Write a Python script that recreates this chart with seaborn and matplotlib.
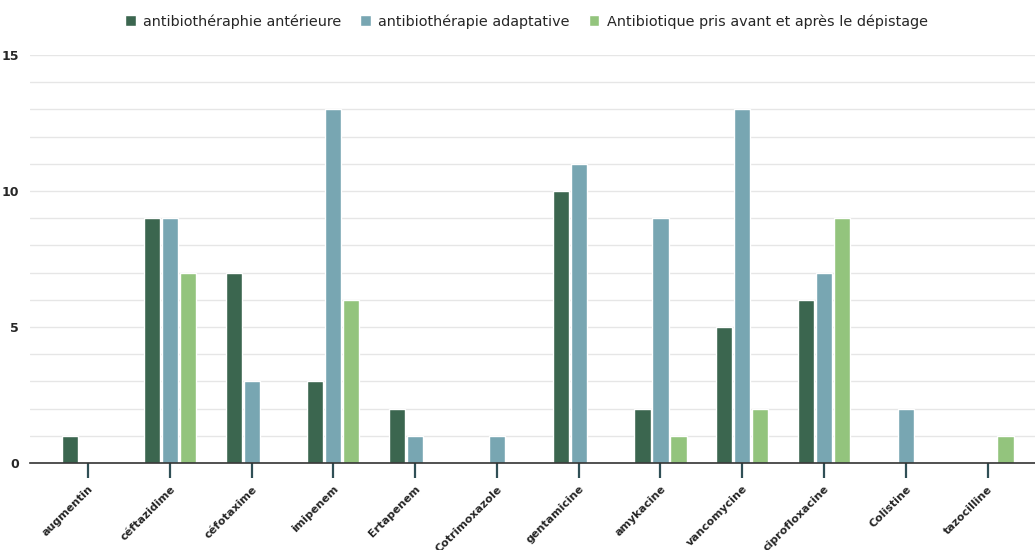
import matplotlib
matplotlib.use("Agg")
import matplotlib.pyplot as plt
import seaborn as sns
import pandas as pd

categories = ["augmentin", "céftazidime", "céfotaxime", "imipenem", "Ertapenem",
              "Cotrimoxazole", "gentamicine", "amykacine", "vancomycine",
              "ciprofloxacine", "Colistine", "tazocilline"]
series_names = ["antibiothéraphie antérieure", "antibiothérapie adaptative",
                "Antibiotique pris avant et après le dépistage"]
anterieure = [1, 9, 7, 3, 2, 0, 10, 2, 5, 6, 0, 0]
adaptative = [0, 9, 3, 13, 1, 1, 11, 9, 13, 7, 2, 0]
avant_apres = [0, 7, 0, 6, 0, 0, 0, 1, 2, 9, 0, 1]
colors = ["#3b664f", "#78a6b2", "#93c47d"]

rows = []
for name, vals in zip(series_names, [anterieure, adaptative, avant_apres]):
    for c, v in zip(categories, vals):
        rows.append({"cat": c, "serie": name, "val": v})
df = pd.DataFrame(rows)

sns.set_style("white")
plt.rcParams["font.family"] = ["DejaVu Sans"]

fig = plt.figure(figsize=(10.35, 5.5), dpi=100)
ax = fig.add_axes([30 / 1035, 1 - 463 / 550, 1005 / 1035, (463 - 55) / 550])

sns.barplot(data=df, x="cat", y="val", hue="serie", order=categories,
            hue_order=series_names, palette=colors, width=0.66, gap=0.1,
            saturation=1, ax=ax, legend=True)

ax.set_ylim(0, 15)
ax.set_xlim(-0.71, 11.58)
ax.set_yticks([0, 5, 10, 15])
ax.set_yticks(range(0, 16), minor=True)
ax.grid(axis="y", which="both", color="#e6e6e6", linewidth=1)
ax.set_axisbelow(True)
for s in ["top", "right", "left"]:
    ax.spines[s].set_visible(False)
ax.spines["bottom"].set_color("#333333")
ax.spines["bottom"].set_linewidth(1.2)
ax.set_xlabel("")
ax.set_ylabel("")
ax.tick_params(axis="y", which="both", left=False, length=0, labelsize=9, pad=8)
ax.tick_params(axis="x", which="major", bottom=True, direction="out", length=11,
               width=1.6, color="#2f4f55", labelsize=8, pad=4)
ax.tick_params(axis="x", which="minor", bottom=False)
for t in ax.get_yticklabels():
    t.set_fontweight("bold")
ax.set_xticks(range(len(categories)))
ax.set_xticklabels(categories, rotation=45, ha="right", rotation_mode="anchor",
                   fontweight="bold")

leg = ax.legend(loc="upper center", bbox_to_anchor=(0.494, 1.132), ncol=3,
                frameon=False, fontsize=10.4, handlelength=0.75, handleheight=0.75,
                handletextpad=0.5, columnspacing=1.3)

fig.savefig("out.png", dpi=100, facecolor="white")
